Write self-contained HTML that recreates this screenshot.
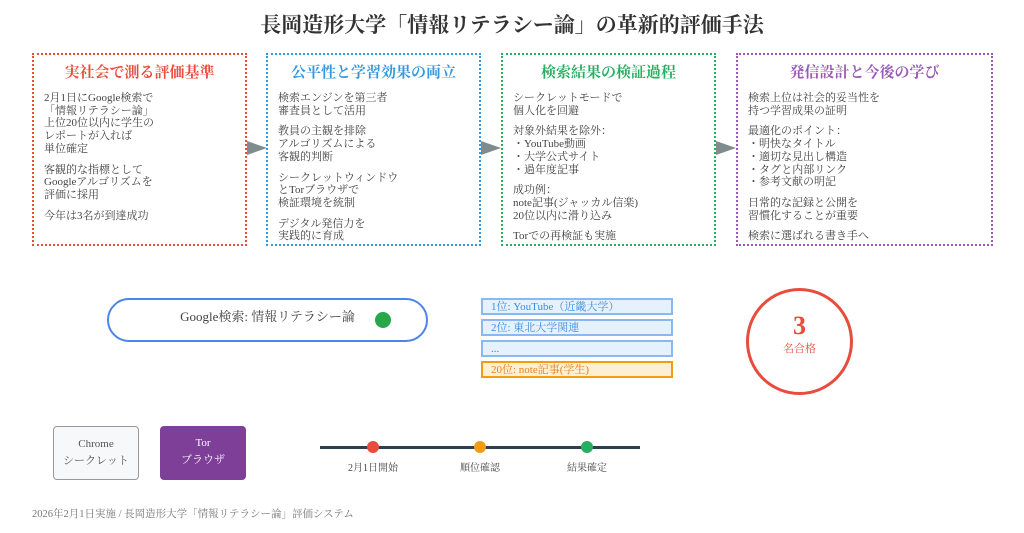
<!DOCTYPE html>
<html><head><meta charset="utf-8"><style>
*{margin:0;padding:0;box-sizing:border-box}
body{width:1024px;height:533px;background:#fff;position:relative;overflow:hidden;font-family:"Liberation Serif","Noto Serif CJK SC",serif;color:#444}
.a{position:absolute}
h1{position:absolute;left:0;width:1024px;top:9px;text-align:center;font-size:21px;color:#333;font-weight:bold}
.box{position:absolute;top:53px;height:193px;border:2.5px dotted}
.box h2{font-size:15px;text-align:center;margin-top:6px;font-weight:bold}
.box .b{padding:10px 0 0 10px;font-size:11px;line-height:12.7px;color:#444}
.box p{margin-bottom:8px}
.arr{position:absolute;top:141px;width:0;height:0;border-top:7px solid transparent;border-bottom:7px solid transparent;border-left:20px solid #7f8c8d}
.row{position:absolute;left:481px;width:192px;height:17px;border:2px solid #8ab8f0;background:#e5f1fc}
.rt{position:absolute;left:491px;font-size:11px;color:#3a8ee6;line-height:13px}
.dot{position:absolute;width:12px;height:12px;border-radius:50%;top:441px}
.tl{position:absolute;top:459px;font-size:10px;color:#444;width:80px;text-align:center}
</style></head><body>
<h1>長岡造形大学「情報リテラシー論」の革新的評価手法</h1>

<div class="box" style="left:32px;width:215px;border-color:#e74c3c">
<h2 style="color:#e74c3c">実社会で測る評価基準</h2>
<div class="b"><p>2月1日にGoogle検索で<br>「情報リテラシー論」<br>上位20位以内に学生の<br>レポートが入れば<br>単位確定</p><p>客観的な指標として<br>Googleアルゴリズムを<br>評価に採用</p><p>今年は3名が到達成功</p></div></div>
<div class="arr" style="left:247px"></div>

<div class="box" style="left:266px;width:215px;border-color:#3498db">
<h2 style="color:#3498db">公平性と学習効果の両立</h2>
<div class="b"><p>検索エンジンを第三者<br>審査員として活用</p><p>教員の主観を排除<br>アルゴリズムによる<br>客観的判断</p><p>シークレットウィンドウ<br>とTorブラウザで<br>検証環境を統制</p><p>デジタル発信力を<br>実践的に育成</p></div></div>
<div class="arr" style="left:481px"></div>

<div class="box" style="left:501px;width:215px;border-color:#27ae60">
<h2 style="color:#27ae60">検索結果の検証過程</h2>
<div class="b"><p>シークレットモードで<br>個人化を回避</p><p>対象外結果を除外：<br>・YouTube動画<br>・大学公式サイト<br>・過年度記事</p><p>成功例：<br>note記事(ジャッカル信楽)<br>20位以内に滑り込み</p><p>Torでの再検証も実施</p></div></div>
<div class="arr" style="left:716px"></div>

<div class="box" style="left:736px;width:257px;border-color:#9b59b6">
<h2 style="color:#9b59b6">発信設計と今後の学び</h2>
<div class="b"><p>検索上位は社会的妥当性を<br>持つ学習成果の証明</p><p>最適化のポイント：<br>・明快なタイトル<br>・適切な見出し構造<br>・タグと内部リンク<br>・参考文献の明記</p><p>日常的な記録と公開を<br>習慣化することが重要</p><p>検索に選ばれる書き手へ</p></div></div>

<div class="a" style="left:107px;top:298px;width:321px;height:44px;border:2px solid #4a86e8;border-radius:22px"></div>
<div class="a" style="left:160px;top:306px;width:215px;text-align:center;font-size:13px;color:#444">Google検索: 情報リテラシー論</div>
<div class="a" style="left:375px;top:312px;width:16px;height:16px;border-radius:50%;background:#27a74a"></div>

<div class="row" style="top:298px"></div><div class="rt" style="top:301px">1位: YouTube（近畿大学）</div>
<div class="row" style="top:319px"></div><div class="rt" style="top:322px">2位: 東北大学関連</div>
<div class="row" style="top:340px"></div><div class="rt" style="top:343px">...</div>
<div class="row" style="top:361px;border-color:#f39c12;background:#fdf0d2"></div><div class="rt" style="top:364px;color:#e67e22">20位: note記事(学生)</div>

<div class="a" style="left:746px;top:288px;width:107px;height:107px;border:3px solid #e74c3c;border-radius:50%"></div>
<div class="a" style="left:746px;top:311px;width:107px;text-align:center;font-size:26px;font-weight:bold;color:#e74c3c">3</div>
<div class="a" style="left:746px;top:340px;width:107px;text-align:center;font-size:11px;color:#e74c3c">名合格</div>

<div class="a" style="left:53px;top:426px;width:86px;height:54px;border:1.5px solid #999;border-radius:4px;background:#f7f8fa;text-align:center;font-size:11px;line-height:17px;padding-top:9px;color:#555">Chrome<br>シークレット</div>
<div class="a" style="left:160px;top:426px;width:86px;height:54px;border-radius:4px;background:#7d3f98;text-align:center;font-size:11px;line-height:17px;padding-top:9px;color:#fff">Tor<br>ブラウザ</div>

<div class="a" style="left:320px;top:446px;width:320px;height:3px;background:#2c3e50"></div>
<div class="dot" style="left:367px;background:#e74c3c"></div>
<div class="dot" style="left:474px;background:#f39c12"></div>
<div class="dot" style="left:581px;background:#27ae60"></div>
<div class="tl" style="left:333px">2月1日開始</div>
<div class="tl" style="left:440px">順位確認</div>
<div class="tl" style="left:547px">結果確定</div>

<div class="a" style="left:32px;top:506px;font-size:10.5px;color:#777">2026年2月1日実施 / 長岡造形大学「情報リテラシー論」評価システム</div>
</body></html>
